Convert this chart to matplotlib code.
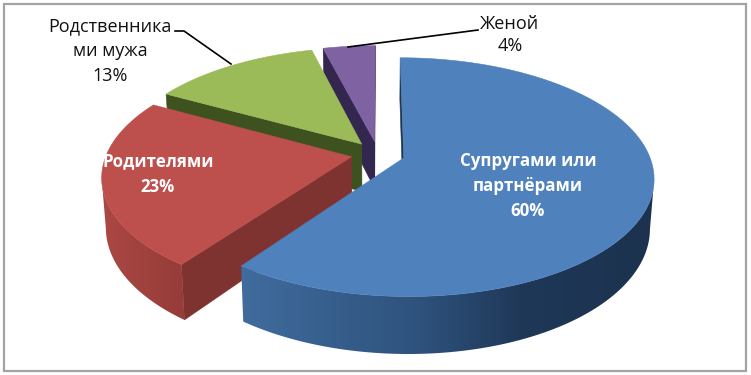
import numpy as np
import matplotlib
matplotlib.use("Agg")
import matplotlib.pyplot as plt
from matplotlib.patches import Polygon, Rectangle

labels = ["Супругами или\nпартнёрами", "Родителями", "Родственника\nми мужа", "Женой"]
values = [60, 23, 13, 4]
top_colors = ["#4f81bd", "#bd4f4c", "#9bbb59", "#7f62a1"]
side_colors = ["#1d3552", "#7f3330", "#3e5220", "#33264f"]
wall_stops = [
    [(240, (64, 108, 158)), (420, (46, 82, 124)), (520, (31, 56, 88)), (656, (28, 50, 78))],
    [(100, (172, 72, 68)), (183, (150, 60, 57))],
    [(0, (62, 82, 32)), (751, (62, 82, 32))],
    [(0, (51, 38, 79)), (751, (51, 38, 79))],
]

fig = plt.figure(figsize=(7.51, 3.75), dpi=100)
ax = fig.add_axes([0, 0, 1, 1])
plt.rcParams["font.family"] = ["Open Sans", "DejaVu Sans"]

CX, CY, A, B, K, EXPL, DEPTH, SHRINK = 378, 154, 245, 115, 0.16, 0.11, 48, 0.985


def project(X, Y):
    w = 1 + K * Y
    return CX + A * X / w, CY - B * Y / w, w


def bottom(x, y, w):
    return CX + (x - CX) * SHRINK, y + DEPTH / w


def draw_slice(start, val, idx):
    # slices further round the pie sit further back, so they are painted lower
    base = 2 + (len(values) - 1 - idx) * 0.1
    a0 = np.radians(start * 3.6)
    a1 = np.radians((start + val) * 3.6)
    mid = (a0 + a1) / 2
    ox, oy = EXPL * np.sin(mid), EXPL * np.cos(mid)
    t = np.linspace(a0, a1, max(int(val * 6), 12))
    X = np.r_[ox, ox + np.sin(t)]
    Y = np.r_[oy, oy + np.cos(t)]
    x, y, w = project(X, Y)
    bx, by = bottom(x, y, w)
    n = len(x)
    # radial walls: first and last edge of the outline, kept when they face the viewer
    for i, j in ((0, 1), (n - 1, 0)):
        if x[j] - x[i] < 0:
            quad = [(x[i], y[i]), (x[j], y[j]), (bx[j], by[j]), (bx[i], by[i])]
            ax.add_patch(Polygon(quad, closed=True, facecolor=side_colors[idx], edgecolor=side_colors[idx],
                                 linewidth=0.4, zorder=base))
    # curved wall, filled with a horizontal gradient
    vis = np.where(np.diff(x[1:]) < 0)[0] + 1
    if len(vis):
        i0, i1 = vis[0], vis[-1] + 1
        pts = np.r_[np.c_[x[i0:i1 + 1], y[i0:i1 + 1]], np.c_[bx[i0:i1 + 1], by[i0:i1 + 1]][::-1]]
        patch = Polygon(pts, closed=True, facecolor="none", edgecolor="none", transform=ax.transData)
        ax.add_patch(patch)
        xs = np.arange(751) + 0.5
        st = wall_stops[idx]
        grad = np.stack([np.interp(xs, [s[0] for s in st], [s[1][c] for s in st]) / 255 for c in range(3)], axis=-1)
        im = ax.imshow(grad[None, :, :], extent=(0, 751, 375, 0), aspect="auto", zorder=base + 0.01,
                       interpolation="bilinear")
        im.set_clip_path(patch)
    ax.add_patch(Polygon(np.c_[x, y], closed=True, facecolor=top_colors[idx], edgecolor=top_colors[idx],
                         linewidth=0.4, zorder=base + 0.02))


ax.add_patch(Rectangle((3.5, 3.5), 742, 367, fill=False, edgecolor="#a3a3a3", linewidth=1.6, zorder=1))

starts = np.r_[0, np.cumsum(values)[:-1]]
for idx in range(len(values) - 1, -1, -1):
    draw_slice(starts[idx], values[idx], idx)

ax.plot([175, 184, 231], [31, 31, 64], color="black", lw=1.2, zorder=3)
ax.plot([348, 478], [47, 30], color="black", lw=1.2, zorder=3)

FS_B, FS_R = 12.2, 13
ax.text(528, 186, f"{labels[0]}\n{values[0]}%", color="white", weight="bold", fontsize=FS_B, ha="center", va="center",
        linespacing=1.5, zorder=4)
ax.text(158, 174, f"{labels[1]}\n{values[1]}%", color="white", weight="bold", fontsize=FS_B, ha="center", va="center",
        linespacing=1.55, zorder=4)
ax.text(110, 51, f"{labels[2]}\n{values[2]}%", color="#111111", fontsize=FS_R, ha="center", va="center",
        linespacing=1.5, zorder=4)
ax.text(510, 35, f"{labels[3]}\n{values[3]}%", color="#111111", fontsize=FS_R, ha="center", va="center",
        linespacing=1.35, zorder=4)

ax.set_xlim(0, 751)
ax.set_ylim(375, 0)
ax.axis("off")
fig.savefig("out.png", dpi=100)
